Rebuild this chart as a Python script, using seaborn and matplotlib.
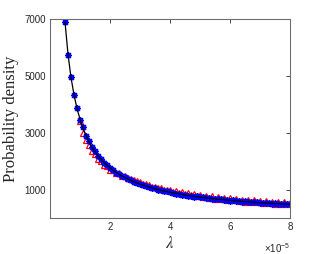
import numpy as np
import pandas as pd
import matplotlib
matplotlib.use("Agg")
import matplotlib.pyplot as plt
import seaborn as sns

# lambda in units of 1e-5
lam_line = [0.5,0.6,0.7,0.8,0.9,1.0,1.1,1.2,1.3,1.4,1.5,1.6,1.7,1.8,1.9,2.0,2.1,2.2,2.3,2.4,2.5,
            2.6,2.7,2.8,2.9,3.0,3.1,3.2,3.3,3.4,3.5,3.6,3.7,3.8,3.9,4.0,4.1,4.2,4.3,4.4,4.5,4.6,
            4.7,4.8,4.9,5.0,5.1,5.2,5.3,5.4,5.5,5.6,5.7,5.8,5.9,6.0,6.1,6.2,6.3,6.4,6.5,6.6,6.7,
            6.8,6.9,7.0,7.1,7.2,7.3,7.4,7.5,7.6,7.7,7.8,7.9,8.0]
dens_line = [6900,5759,4943,4332,3856,3476,3165,2905,2686,2498,2335,2192,2066,1954,1854,1764,1682,
             1608,1541,1479,1422,1369,1320,1275,1233,1193,1157,1122,1090,1059,1030,1003,977,953,930,
             908,887,867,848,830,813,796,781,765,751,737,723,710,698,686,675,663,653,642,632,623,613,
             604,596,587,579,571,563,556,548,541,534,528,521,515,509,503,497,491,485,480]

lam_blue = lam_line
dens_blue = [6900,5740,4960,4310,3880,3450,3190,2880,2710,2480,2350,2180,2080,1940,1870,1750,1690,
             1600,1550,1470,1430,1360,1330,1270,1240,1185,1165,1115,1095,1050,1040,995,985,945,940,
             900,895,860,855,820,820,790,790,755,760,730,730,700,705,680,680,655,660,635,640,615,620,
             598,600,580,585,565,568,550,552,535,538,522,525,510,512,498,500,486,488,478]

lam_red = lam_line[5:]
dens_red = [3420,3000,2760,2580,2360,2260,2080,2020,1860,1830,1700,1700,1570,1580,1470,1470,1390,
            1380,1320,1290,1250,1200,1180,1160,1090,1100,1060,1040,1000,990,990,930,950,880,900,840,
            870,800,840,770,810,740,780,710,760,680,730,660,710,640,690,620,670,600,650,580,640,565,
            620,550,610,535,595,520,580,510,570,495,555,490,540]

sns.set_style("white")
plt.rcParams["mathtext.fontset"] = "stix"
fig = plt.figure(figsize=(3.21, 2.54), dpi=100)
ax = fig.add_axes([50/321, 36/254, 240/321, 199/254])

sns.lineplot(x=lam_red, y=dens_red, ax=ax, marker="^", linestyle="none", markersize=5,
             markerfacecolor="none", markeredgecolor="red", markeredgewidth=0.9, color="red",
             sort=False, estimator=None)
sns.lineplot(x=lam_blue, y=dens_blue, ax=ax, marker=(8, 2, 0), linestyle="none", markersize=4.8,
             markeredgecolor="blue", markeredgewidth=1.0, color="blue", sort=False, estimator=None)
sns.lineplot(x=lam_line, y=dens_line, ax=ax, color="black", linewidth=0.9, sort=False,
             estimator=None)

ax.set_xlim(0, 8)
ax.set_ylim(0, 7000)
ax.set_xticks([2, 4, 6, 8])
ax.set_yticks([1000, 3000, 5000, 7000])
ax.tick_params(direction="in", length=3, width=0.6, colors="#262626", labelsize=7,
               top=True, right=True, pad=3)
for lab in ax.get_xticklabels() + ax.get_yticklabels():
    lab.set_family("Liberation Sans")
for s in ax.spines.values():
    s.set_color("#6e6e6e")
    s.set_linewidth(0.8)

ax.set_xlabel(r"$\lambda$", fontsize=12, labelpad=1)
ax.set_ylabel("Probability density", fontsize=12, family="Liberation Serif", labelpad=4)
ax.text(1.0, -0.115, "\u00d7" + r"$\mathregular{10^{-5}}$", transform=ax.transAxes, ha="right",
        va="top", fontsize=7, color="#262626", family="Liberation Sans")
fig.savefig("out.png", dpi=100)
